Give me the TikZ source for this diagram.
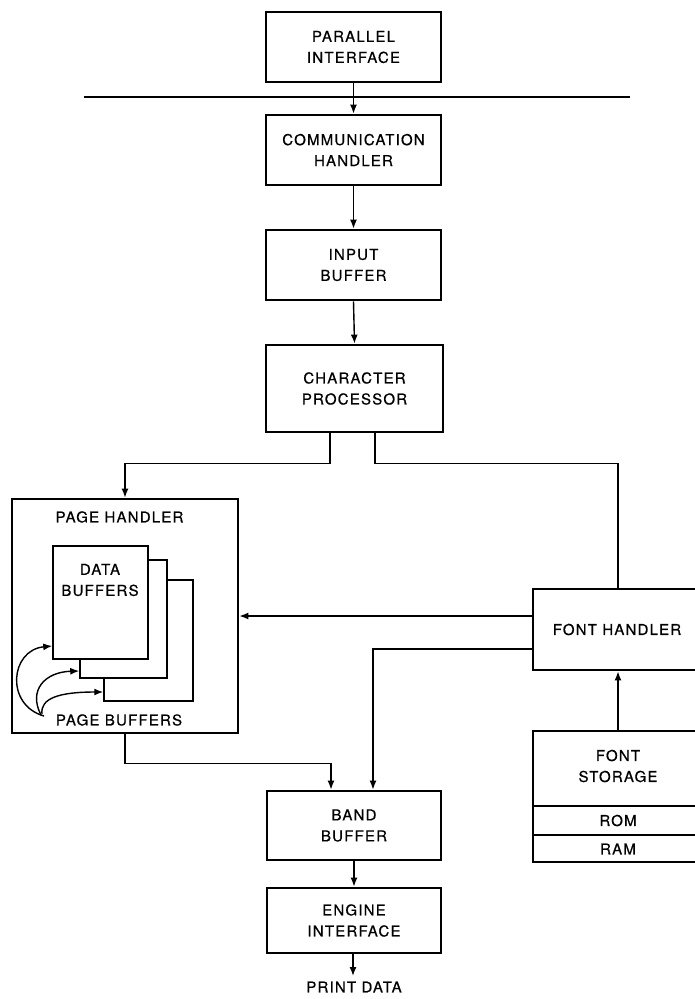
\documentclass[tikz,border=0pt]{standalone}
\usepackage{fontspec}
\setmainfont{TeX Gyre Heros}[LetterSpace=8,FakeBold=0.6]
\usetikzlibrary{arrows.meta,calc}
\begin{document}
\begin{tikzpicture}[x=1pt,y=-1pt,
  txt/.style={font=\fontsize{15}{21}\selectfont, align=center, inner sep=0pt},
  box/.style={draw, line width=2.8pt, inner sep=0pt, txt},
  page/.style={draw, line width=1.5pt, fill=white, inner sep=0pt},
  ln/.style={line width=1.4pt},
  arr/.style={ln, -{Latex[length=9pt,width=7pt]}},
]
\useasboundingbox (0,0) rectangle (694,999);
% main column
\node[box, minimum width=175pt, minimum height=70pt] (par) at (353.5,47) {PARALLEL\\INTERFACE};
\node[box, minimum width=175pt, minimum height=70pt] (comm) at (353.5,150) {COMMUNICATION\\HANDLER};
\node[box, minimum width=175pt, minimum height=70pt] (inbuf) at (353.5,265) {INPUT\\BUFFER};
\node[box, minimum width=177pt, minimum height=87pt] (charp) at (354.5,388.5) {CHARACTER\\PROCESSOR};
\node[box, minimum width=174pt, minimum height=69pt] (band) at (354,825.5) {BAND\\BUFFER};
\node[box, minimum width=174pt, minimum height=65pt] (eng) at (354,920.5) {ENGINE\\INTERFACE};
% page handler
\node[box, minimum width=226pt, minimum height=234pt] (ph) at (125,616) {};
\node[txt] (phl) at (119.5,517) {PAGE HANDLER};
\node[page, minimum width=89pt, minimum height=121pt] (p3) at (148.5,640.5) {};
\node[page, minimum width=87pt, minimum height=118pt] (p2) at (123.5,619) {};
\node[page, minimum width=95pt, minimum height=113pt] (p1) at (100.5,602.5) {};
\node[txt] (dbl) at (100,580) {DATA\\BUFFERS};
\node[txt] (pbl) at (119,720) {PAGE BUFFERS};
% font handler / storage
\node[box, minimum width=164pt, minimum height=81pt] (fh) at (615,629.5) {};
\node[txt] (fhl) at (617,629.5) {FONT HANDLER};
\node[box, minimum width=164pt, minimum height=131pt] (fs) at (615,796.5) {};
\node[txt] (fsl) at (618,766) {FONT\\STORAGE};
\node[txt] (rom) at (618,820.5) {ROM};
\node[txt] (ram) at (618,849) {RAM};
\draw[line width=2pt] (fs.west |- 0,806) -- (fs.east |- 0,806);
\draw[line width=2pt] (fs.west |- 0,835) -- (fs.east |- 0,835);
% bus line
\coordinate (hl1) at (84,97);
\coordinate (hl2) at (630,97);
\draw[ln] (hl1) -- (hl2);
% connectors
\draw[arr] (par.south) -- (comm.north);
\draw[arr] (comm.south) -- (inbuf.north);
\draw[arr] (inbuf.south) -- (charp.north);
\draw[arr] ([xshift=-24.5pt]charp.south) -- ++(0,30) -| (ph.north);
\draw[ln] ([xshift=20.5pt]charp.south) -- ++(0,30) -| ([xshift=3pt]fh.north);
\draw[arr] ([yshift=13.5pt]fh.west) -- ([yshift=13.5pt]fh.west -| ph.east);
\draw[arr] ([yshift=-19.5pt]fh.west) -| ([xshift=19pt]band.north);
\draw[arr] (ph.south) -- ++(0,29) -| ([xshift=-23pt]band.north);
\draw[arr] ([xshift=3pt]fs.north) -- ([xshift=3pt]fh.south);
\draw[arr] (band.south) -- (eng.north);
\coordinate (pd) at (353,976);
\draw[arr] (eng.south -| pd) -- (pd);
\node[txt] (pdl) at (354,987) {PRINT DATA};
% page buffer curves
\coordinate (pb1) at (44,716);
\coordinate (pb2) at (41,715);
\coordinate (pb3) at (42,714);
\draw[arr] (pb1) .. controls (5,705) and (10,650) .. ([yshift=-43.5pt]p1.west);
\draw[arr] (pb2) .. controls (28,690) and (45,672) .. ([yshift=-52pt]p2.west);
\draw[arr] (pb3) .. controls (40,698) and (60,692) .. ([yshift=-51.5pt]p3.west);
\end{tikzpicture}
\end{document}
